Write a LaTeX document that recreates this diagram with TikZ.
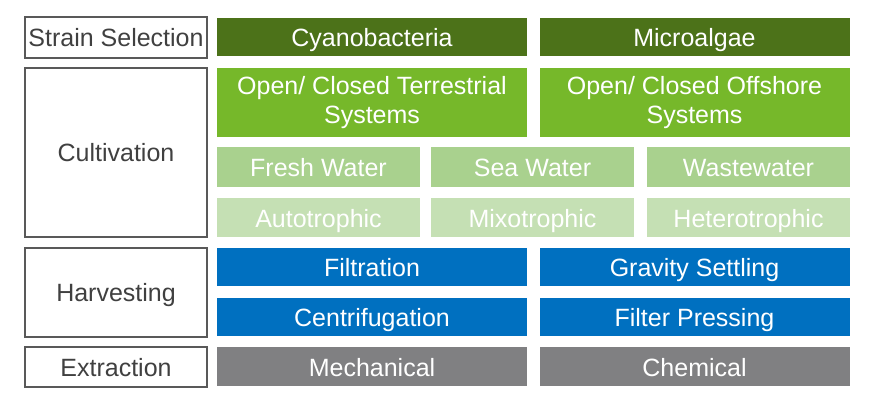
\documentclass[tikz,border=0pt]{standalone}
\usepackage{fontspec}
\setmainfont{Liberation Sans}
\definecolor{strainGreen}{HTML}{4C7219}
\definecolor{cultGreen}{HTML}{76B82A}
\definecolor{waterGreen}{HTML}{A9D18E}
\definecolor{trophGreen}{HTML}{C5E0B4}
\definecolor{harvBlue}{HTML}{0070C0}
\definecolor{extrGray}{HTML}{808082}
\definecolor{stageLine}{HTML}{595959}
\definecolor{stageText}{HTML}{404040}
\tikzset{
  stage/.style={draw=stageLine, line width=1.6pt, fill=white, inner sep=0pt,
    minimum width=182pt, text=stageText, text height=18.4pt, text depth=0pt,
    font=\fontsize{25}{29}\selectfont},
  twoline/.style={inner sep=0pt, text=white, align=center, minimum width=310pt,
    font=\fontsize{25}{29}\selectfont},
  cell/.style={inner sep=0pt, text=white, align=center, text height=19.5pt,
    text depth=0pt, font=\fontsize{25}{29}\selectfont},
  wide/.style={cell, minimum width=310pt},
  third/.style={cell, minimum width=203pt}
}

\begin{document}
\begin{tikzpicture}[x=1pt,y=-1pt]
            \useasboundingbox (0,0) rectangle (881,408);
            % stages
            \node[stage, minimum height=41pt] (strain) at (116,37.5) {Strain Selection};
            \node[stage, minimum height=169pt] (cultivation) at (116,152.5) {Cultivation};
            \node[stage, minimum height=89pt] (harvesting) at (116,292.5) {Harvesting};
            \node[stage, minimum height=40pt] (extraction) at (116,367) {Extraction};
            % strain selection
            \node[wide, fill=strainGreen, minimum height=38pt] (cyano) at (372,37) {Cyanobacteria};
            \node[wide, fill=strainGreen, minimum height=38pt] (algae) at (694.5,37) {Microalgae};
            % cultivation
            \node[twoline, fill=cultGreen, minimum height=69pt] (terrestrial) at (372,102.5) {Open/ Closed Terrestrial\\Systems};
            \node[twoline, fill=cultGreen, minimum height=69pt] (offshore) at (694.5,102.5) {Open/ Closed Offshore\\Systems};
            \node[third, fill=waterGreen, minimum height=40pt] (fresh) at (318.5,167) {Fresh Water};
            \node[third, fill=waterGreen, minimum height=40pt] (sea) at (532.5,167) {Sea Water};
            \node[third, fill=waterGreen, minimum height=40pt] (waste) at (748.5,167) {Wastewater};
            \node[third, fill=trophGreen, minimum height=39pt] (auto) at (318.5,217.5) {Autotrophic};
            \node[third, fill=trophGreen, minimum height=39pt] (mixo) at (532.5,217.5) {Mixotrophic};
            \node[third, fill=trophGreen, minimum height=39pt] (hetero) at (748.5,217.5) {Heterotrophic};
            % harvesting
            \node[wide, fill=harvBlue, minimum height=38pt] (filtration) at (372,267) {Filtration};
            \node[wide, fill=harvBlue, minimum height=38pt] (gravity) at (694.5,267) {Gravity Settling};
            \node[wide, fill=harvBlue, minimum height=38pt] (centri) at (372,317) {Centrifugation};
            \node[wide, fill=harvBlue, minimum height=38pt] (pressing) at (694.5,317) {Filter Pressing};
            % extraction
            \node[wide, fill=extrGray, minimum height=39pt] (mechanical) at (372,366.5) {Mechanical};
            \node[wide, fill=extrGray, minimum height=39pt] (chemical) at (694.5,366.5) {Chemical};
        \end{tikzpicture}
\end{document}
